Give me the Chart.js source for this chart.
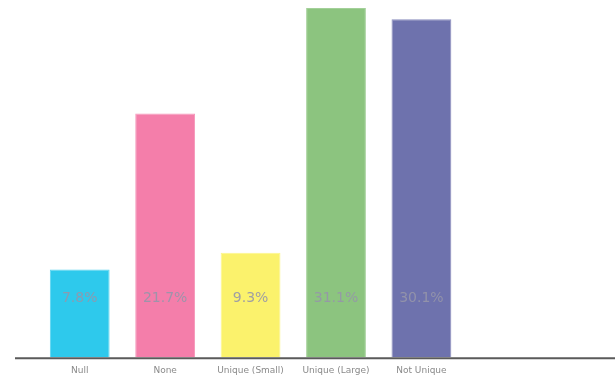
<!DOCTYPE html>
<html>
<head>
<meta charset="utf-8">
<script src="https://cdn.jsdelivr.net/npm/chart.js@4"></script>
<style>
  html, body { margin: 0; padding: 0; background: #fff; overflow: hidden; }
  #wrap { position: absolute; left: 0; top: 0; width: 640px; height: 376px; }
</style>
</head>
<body>
<div id="wrap"><canvas id="chart"></canvas></div>
<script>
// categories (two trailing empty slots keep the spacing of the original)
const categories = ['Null', 'None', 'Unique (Small)', 'Unique (Large)', 'Not Unique', '', ''];
const shares = [7.8, 21.7, 9.3, 31.1, 30.1, null, null];
const shareLabels = ['7.8%', '21.7%', '9.3%', '31.1%', '30.1%'];
const barColors = ['#2ec9ec', '#f47eaa', '#fbf26c', '#8cc47f', '#6e72ad'];

// labels written in the lower part of each bar
const barText = {
  id: 'barText',
  afterDatasetsDraw(chart) {
    const ctx = chart.ctx;
    const meta = chart.getDatasetMeta(0);
    ctx.save();
    ctx.font = '14px "DejaVu Sans", sans-serif';
    ctx.fillStyle = 'rgba(150,150,170,0.9)';
    ctx.textAlign = 'center';
    ctx.textBaseline = 'middle';
    meta.data.forEach((bar, i) => {
      if (shareLabels[i]) ctx.fillText(shareLabels[i], bar.x, 298);
    });
    ctx.restore();
  }
};

// long base line under the bars
const baseLine = {
  id: 'baseLine',
  afterDraw(chart) {
    const ctx = chart.ctx;
    const y = chart.chartArea.bottom + 1;
    ctx.save();
    ctx.strokeStyle = '#5a5a5a';
    ctx.lineWidth = 2;
    ctx.beginPath();
    ctx.moveTo(15, y);
    ctx.lineTo(chart.width, y);
    ctx.stroke();
    ctx.restore();
  }
};

new Chart(document.getElementById('chart'), {
  type: 'bar',
  data: {
    labels: categories,
    datasets: [{
      data: shares,
      backgroundColor: barColors,
      borderColor: barColors.map(c => c + 'cc'),
      borderWidth: 1,
      categoryPercentage: 1,
      barPercentage: 0.7
    }]
  },
  options: {
    responsive: true,
    maintainAspectRatio: false,
    animation: false,
    layout: { padding: { left: 37, right: 5, top: 8, bottom: 0 } },
    plugins: { legend: { display: false }, tooltip: { enabled: false } },
    scales: {
      y: { display: false, min: 0, max: 31.1 },
      x: {
        grid: { display: false },
        border: { display: false },
        ticks: { color: '#8a8a8a', font: { size: 9, family: '"DejaVu Sans", sans-serif' }, padding: 0, maxRotation: 0, autoSkip: false }
      }
    }
  },
  plugins: [barText, baseLine]
});
</script>
</body>
</html>
